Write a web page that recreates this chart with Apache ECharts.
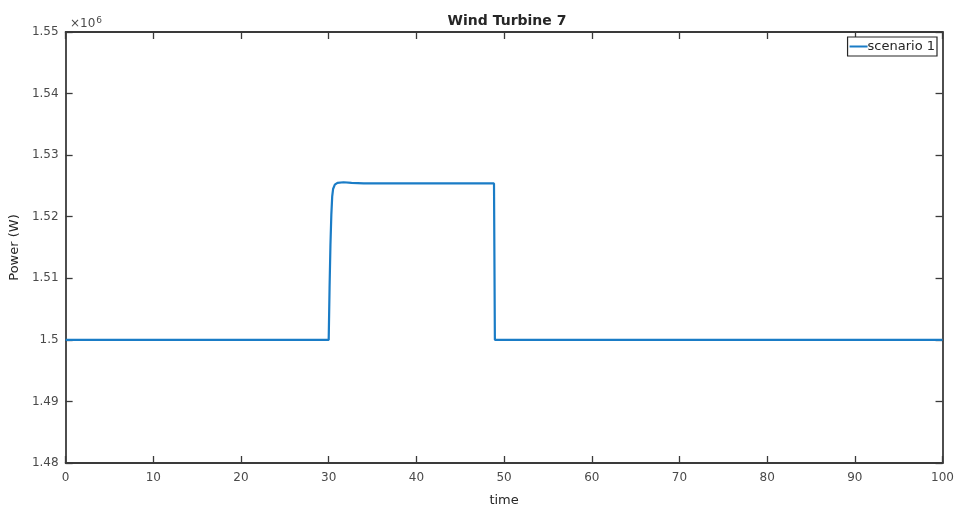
<!DOCTYPE html>
<html>
<head>
<meta charset="utf-8">
<script src="https://cdn.jsdelivr.net/npm/echarts@6/dist/echarts.min.js"></script>
<style>
html,body{margin:0;padding:0;background:#fff;}
#chart{width:957px;height:512px;}
</style>
</head>
<body>
<div id="chart"></div>
<script>
// Data (time in s, power in W)
var timePoints = [0, 30.0, 30.1, 30.2, 30.3, 30.4, 30.5, 30.7, 31.0, 31.7, 32.6, 34.0, 48.85, 48.95, 100];
var powerValues = [1500000, 1500000, 1508500, 1515500, 1520300, 1523300, 1524500, 1525200, 1525500, 1525600, 1525500, 1525400, 1525400, 1500000, 1500000];
var seriesName = 'scenario 1';
var xTicks = [0, 10, 20, 30, 40, 50, 60, 70, 80, 90, 100];
var yTicks = [1480000, 1490000, 1500000, 1510000, 1520000, 1530000, 1540000, 1550000];

var pts = timePoints.map(function (t, i) { return [t, powerValues[i]]; });

var axisCol = '#3a3a3a';
var labelCol = '#4a4a4a';
var font = 'DejaVu Sans';

function yFmt(v) { return parseFloat((v / 1e6).toFixed(2)).toString(); }

var chart = echarts.init(document.getElementById('chart'), null, {renderer: 'canvas'});
chart.setOption({
  backgroundColor: '#ffffff',
  animation: false,
  title: [
    {text: 'Wind Turbine 7', left: 502, top: 9, textAlign: 'center',
     textStyle: {fontFamily: font, fontSize: 14, fontWeight: 'bold', color: '#262626'}},
    {text: '×10{sup|6}', left: 65, top: 11,
     textStyle: {fontFamily: font, fontSize: 12, fontWeight: 'normal', color: labelCol,
       rich: {sup: {fontFamily: font, fontSize: 9, color: labelCol, verticalAlign: 'top', padding: [0, 0, 7, 1]}}}}
  ],
  legend: {
    data: [seriesName], right: 20, top: 37,
    orient: 'vertical',
    icon: 'rect', itemWidth: 18, itemHeight: 2, itemGap: 0,
    padding: [3, 2, 3, 2],
    borderColor: '#262626', borderWidth: 1.2, backgroundColor: '#fff',
    textStyle: {fontFamily: font, fontSize: 13, color: '#262626', padding: [0, 0, 0, -5]}
  },
  grid: {left: 65, right: 13, top: 32, bottom: 45, containLabel: false},
  xAxis: [
    {type: 'value', min: 0, max: 100, interval: 10, position: 'bottom',
     name: 'time', nameLocation: 'middle', nameGap: 31,
     nameTextStyle: {fontFamily: font, fontSize: 13, color: '#262626'},
     axisLine: {show: true, onZero: false, lineStyle: {color: axisCol, width: 1.8}},
     axisTick: {show: true, inside: true, length: 7, lineStyle: {color: axisCol, width: 1.3}},
     axisLabel: {fontFamily: font, fontSize: 12, color: labelCol, margin: 9,
       formatter: function (v) { return xTicks.indexOf(v) >= 0 ? String(v) : ''; }},
     splitLine: {show: false}},
    {type: 'value', min: 0, max: 100, interval: 10, position: 'top',
     axisLine: {show: true, onZero: false, lineStyle: {color: axisCol, width: 1.8}},
     axisTick: {show: true, inside: true, length: 7, lineStyle: {color: axisCol, width: 1.3}},
     axisLabel: {show: false}, splitLine: {show: false}}
  ],
  yAxis: [
    {type: 'value', min: 1480000, max: 1550000, interval: 10000, position: 'left',
     name: 'Power (W)', nameLocation: 'middle', nameGap: 36, nameRotate: 90,
     nameTextStyle: {fontFamily: font, fontSize: 13, color: '#262626'},
     axisLine: {show: true, onZero: false, lineStyle: {color: axisCol, width: 1.8}},
     axisTick: {show: true, inside: true, length: 7, lineStyle: {color: axisCol, width: 1.3}},
     axisLabel: {fontFamily: font, fontSize: 12, color: labelCol, margin: 7,
       formatter: function (v) { return yTicks.indexOf(v) >= 0 ? yFmt(v) : ''; }},
     splitLine: {show: false}},
    {type: 'value', min: 1480000, max: 1550000, interval: 10000, position: 'right',
     axisLine: {show: true, onZero: false, lineStyle: {color: axisCol, width: 1.8}},
     axisTick: {show: true, inside: true, length: 7, lineStyle: {color: axisCol, width: 1.3}},
     axisLabel: {show: false}, splitLine: {show: false}}
  ],
  series: [{
    name: seriesName, type: 'line', xAxisIndex: 0, yAxisIndex: 0,
    data: pts, symbol: 'none', smooth: false,
    lineStyle: {color: '#1a7cc6', width: 2.2},
    itemStyle: {color: '#1a7cc6'}
  }]
});
</script>
</body>
</html>
